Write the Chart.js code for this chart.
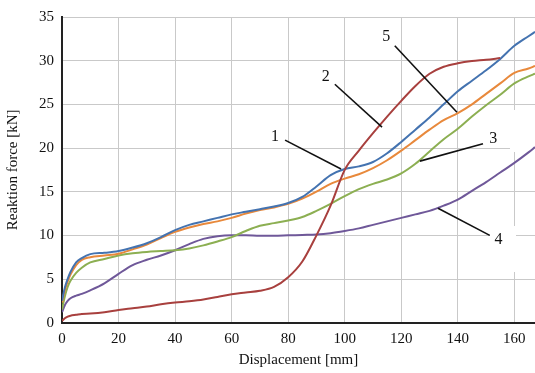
<!DOCTYPE html>
<html>
<head>
<meta charset="utf-8">
<script src="https://cdn.jsdelivr.net/npm/chart.js@4/dist/chart.umd.min.js"></script>
<style>
  html, body { margin: 0; padding: 0; background: #fff; }
  #wrap { width: 535px; height: 373px; }
</style>
</head>
<body>
<div id="wrap"><canvas id="c" width="535" height="373"></canvas></div>
<script>
// ---- data ----
const displacement = [0,1,2,3,5,7,10,15,20,25,30,35,40,45,50,55,60,65,70,75,80,85,90,95,100,105,110,115,120,125,130,135,140,145,150,155,160,165,167.3];
const curve1 = [2.5,4.0,5.0,5.8,6.9,7.4,7.85,8.0,8.2,8.6,9.1,9.8,10.6,11.2,11.6,12.0,12.4,12.7,13.0,13.3,13.7,14.4,15.6,16.9,17.6,17.9,18.4,19.4,20.7,22.1,23.5,25.0,26.5,27.7,28.9,30.2,31.7,32.8,33.3];
const curve2 = [0.2,0.5,0.7,0.8,0.9,1.0,1.05,1.2,1.45,1.65,1.85,2.1,2.3,2.45,2.65,2.95,3.25,3.45,3.65,4.1,5.2,7.0,10.0,13.4,17.5,19.7,21.7,23.6,25.4,27.1,28.5,29.3,29.7,29.95,30.1,30.3,null,null,null];
const curve3 = [1.5,3.0,4.1,4.8,5.7,6.3,6.9,7.3,7.7,7.95,8.1,8.2,8.3,8.5,8.85,9.3,9.8,10.5,11.1,11.4,11.7,12.1,12.8,13.6,14.5,15.3,15.9,16.4,17.1,18.2,19.6,21.0,22.2,23.6,24.9,26.1,27.4,28.2,28.5];
const curve4 = [1.2,2.0,2.5,2.8,3.1,3.3,3.7,4.5,5.6,6.6,7.2,7.7,8.3,9.0,9.6,9.9,10.0,10.0,9.95,9.95,10.0,10.05,10.1,10.25,10.5,10.8,11.2,11.6,12.0,12.4,12.8,13.4,14.1,15.1,16.1,17.2,18.3,19.5,20.1];
const curve5 = [2.3,3.7,4.7,5.5,6.6,7.2,7.5,7.7,7.9,8.4,8.95,9.7,10.4,10.9,11.3,11.6,12.0,12.5,12.9,13.2,13.6,14.2,15.0,15.9,16.5,17.0,17.7,18.6,19.7,20.9,22.1,23.2,24.0,25.0,26.2,27.4,28.6,29.1,29.4];
const yTicks = [0,5,10,15,20,25,30,35];
const xTicks = [0,20,40,60,80,100,120,140,160];
// annotation labels: [text, textX, textY, lineStartX, lineStartY, lineEndX, lineEndY] in data units
const labelNames = ['1','2','5','3','4'];
const labelAt   = [[75.3,21.3],[93.3,28.1],[114.7,32.7],[152.5,21.0],[154.4,9.5]];
const leaderFrom = [[78.9,20.9],[96.5,27.3],[117.7,31.7],[148.9,20.5],[151.3,10.0]];
const leaderTo   = [[98.7,17.6],[113.2,22.4],[139.7,24.1],[126.6,18.5],[133.0,13.1]];

const pts = arr => displacement.map((x,i) => ({x: x, y: arr[i]}));

const serif = '"Liberation Serif", "DejaVu Serif", serif';

const annot = {
  id: 'annot',
  beforeDatasetsDraw(chart) {
    const ctx = chart.ctx;
    ctx.save();
    ctx.fillStyle = '#fff';
    // white patches behind labels (gaps in the grid)
    ctx.fillRect(255, 143, 85, 5);
    ctx.fillRect(307, 54, 28, 6);
    ctx.fillRect(365, 11, 30, 6);
    ctx.fillRect(510, 110, 25, 42);
    ctx.fillRect(490, 226, 26, 14);
    ctx.fillRect(510, 226, 6, 46);
    ctx.restore();
  },
  afterDatasetsDraw(chart) {
    const ctx = chart.ctx;
    const xs = chart.scales.x, ys = chart.scales.y;
    ctx.save();
    ctx.strokeStyle = '#111';
    ctx.lineWidth = 1.6;
    ctx.fillStyle = '#111';
    ctx.font = '16px ' + serif;
    ctx.textAlign = 'center';
    ctx.textBaseline = 'middle';
    labelNames.forEach((t, i) => {
      ctx.beginPath();
      ctx.moveTo(xs.getPixelForValue(leaderFrom[i][0]), ys.getPixelForValue(leaderFrom[i][1]));
      ctx.lineTo(xs.getPixelForValue(leaderTo[i][0]), ys.getPixelForValue(leaderTo[i][1]));
      ctx.stroke();
      ctx.fillText(t, xs.getPixelForValue(labelAt[i][0]), ys.getPixelForValue(labelAt[i][1]));
    });
    ctx.restore();
  }
};

const mk = (data, color) => ({
  data: pts(data), borderColor: color, backgroundColor: color,
  borderWidth: 2, pointRadius: 0, cubicInterpolationMode: 'monotone', fill: false, spanGaps: false
});

new Chart(document.getElementById('c'), {
  type: 'line',
  data: {
    datasets: [
      mk(curve2, '#a8403e'),
      mk(curve1, '#4473b0'),
      mk(curve5, '#e8893c'),
      mk(curve3, '#8caf52'),
      mk(curve4, '#6f5899')
    ]
  },
  options: {
    responsive: false,
    animation: false,
    devicePixelRatio: 1,
    layout: { padding: { top: 14, right: 0, bottom: 1, left: 0 } },
    plugins: { legend: { display: false }, tooltip: { enabled: false } },
    scales: {
      x: {
        type: 'linear', min: 0, max: 167.3,
        afterFit: s => { s.height = 49.3; },
        afterBuildTicks: s => { s.ticks = xTicks.map(v => ({value: v})); },
        ticks: { color: '#111', font: { family: serif, size: 15 }, padding: 7, maxRotation: 0 },
        grid: { color: '#c9c9c9', lineWidth: 1, drawTicks: false },
        border: { color: '#222', width: 2 },
        title: { display: true, text: 'Displacement [mm]', color: '#111', font: { family: serif, size: 15 }, padding: { top: 2, bottom: 3 } }
      },
      y: {
        min: 0, max: 35,
        afterFit: s => { s.width = 62; },
        afterBuildTicks: s => { s.ticks = yTicks.map(v => ({value: v})); },
        ticks: { color: '#111', font: { family: serif, size: 15 }, padding: 8 },
        grid: { color: '#c9c9c9', lineWidth: 1, drawTicks: false },
        border: { color: '#222', width: 2 },
        title: { display: true, text: 'Reaktion force [kN]', color: '#111', font: { family: serif, size: 15 }, padding: { top: 4, bottom: 4 } }
      }
    }
  },
  plugins: [annot]
});
</script>
</body>
</html>
